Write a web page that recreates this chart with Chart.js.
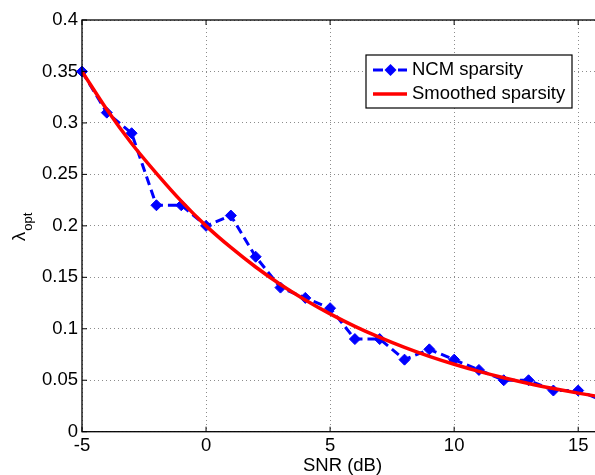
<!DOCTYPE html>
<html>
<head>
<meta charset="utf-8">
<script src="https://cdn.jsdelivr.net/npm/chart.js@4/dist/chart.umd.min.js"></script>
<style>
    html, body { margin: 0; padding: 0; background: #fff; overflow: hidden; }
    #wrap { width: 610px; height: 475px; }
</style>
</head>
<body>
<div id="wrap"><canvas id="chart" width="610" height="475"></canvas></div>
<script>
    // data
    const snr = [-5, -4, -3, -2, -1, 0, 1, 2, 3, 4, 5, 6, 7, 8, 9, 10, 11, 12, 13, 14, 15, 16];
    const ncmSparsity = [0.35, 0.31, 0.29, 0.22, 0.22, 0.20, 0.21, 0.17, 0.14, 0.13, 0.12,
        0.09, 0.09, 0.07, 0.08, 0.07, 0.06, 0.05, 0.05, 0.04, 0.04, 0.03];
    const smoothedSparsity = [0.350, 0.313, 0.280, 0.251, 0.224, 0.200, 0.179, 0.160, 0.143, 0.128, 0.1145,
        0.1024, 0.0916, 0.0819, 0.0732, 0.0655, 0.0586, 0.0524, 0.0468, 0.0419, 0.0375, 0.0335];
    const xTicks = [-5, 0, 5, 10, 15];
    const yTicks = [0, 0.05, 0.1, 0.15, 0.2, 0.25, 0.3, 0.35, 0.4];
    const seriesNames = ['NCM sparsity', 'Smoothed sparsity'];

    const FONT = "'Liberation Sans', Arial, sans-serif";
    const FONT_SIZE = 18.5;

    // frame, inward ticks, axis labels and legend (matlab look)
    const matlabFrame = {
        id: 'matlabFrame',
        afterDraw(chart) {
            const ctx = chart.ctx;
            const a = chart.chartArea;
            const xs = chart.scales.x, ys = chart.scales.y;
            ctx.save();
            ctx.strokeStyle = '#000';
            ctx.lineWidth = 1.3;
            ctx.strokeRect(a.left, a.top, a.right - a.left, a.bottom - a.top);

            ctx.lineWidth = 1;
            ctx.beginPath();
            xTicks.forEach(v => {
                const px = xs.getPixelForValue(v);
                ctx.moveTo(px, a.bottom); ctx.lineTo(px, a.bottom - 5);
                ctx.moveTo(px, a.top); ctx.lineTo(px, a.top + 5);
            });
            yTicks.forEach(v => {
                const py = ys.getPixelForValue(v);
                ctx.moveTo(a.left, py); ctx.lineTo(a.left + 5, py);
                ctx.moveTo(a.right, py); ctx.lineTo(a.right - 5, py);
            });
            ctx.stroke();

            // x title
            ctx.fillStyle = '#000';
            ctx.font = FONT_SIZE + 'px ' + FONT;
            ctx.textAlign = 'center';
            ctx.textBaseline = 'middle';
            ctx.fillText('SNR (dB)', (a.left + a.right) / 2, 466);

            // y title: lambda with subscript opt
            ctx.save();
            ctx.translate(25, 241);
            ctx.rotate(-Math.PI / 2);
            ctx.textAlign = 'left';
            ctx.textBaseline = 'alphabetic';
            ctx.font = FONT_SIZE + 'px ' + FONT;
            ctx.fillText('λ', 0, 0);
            const w = ctx.measureText('λ').width;
            ctx.font = '13px ' + FONT;
            ctx.fillText('opt', w + 1, 7);
            ctx.restore();

            // legend
            const lx = 366, ly = 55, lw = 206, lh = 53;
            ctx.fillStyle = '#fff';
            ctx.fillRect(lx, ly, lw, lh);
            ctx.strokeStyle = '#000';
            ctx.lineWidth = 1.2;
            ctx.strokeRect(lx, ly, lw, lh);

            const ds = chart.data.datasets;
            const r1 = ly + 15, r2 = ly + 39;
            // row 1: dashed blue with diamond
            ctx.strokeStyle = ds[0].borderColor;
            ctx.lineWidth = ds[0].borderWidth;
            ctx.beginPath();
            ctx.moveTo(lx + 7, r1); ctx.lineTo(lx + 17, r1);
            ctx.moveTo(lx + 32, r1); ctx.lineTo(lx + 41, r1);
            ctx.stroke();
            ctx.fillStyle = ds[0].pointBackgroundColor;
            ctx.beginPath();
            const cx = lx + 24.5, rr = 6;
            ctx.moveTo(cx, r1 - rr); ctx.lineTo(cx + rr, r1);
            ctx.lineTo(cx, r1 + rr); ctx.lineTo(cx - rr, r1);
            ctx.closePath();
            ctx.fill();
            // row 2: red solid
            ctx.strokeStyle = ds[1].borderColor;
            ctx.lineWidth = ds[1].borderWidth;
            ctx.beginPath();
            ctx.moveTo(lx + 7, r2); ctx.lineTo(lx + 41, r2);
            ctx.stroke();

            ctx.fillStyle = '#000';
            ctx.font = FONT_SIZE + 'px ' + FONT;
            ctx.textAlign = 'left';
            ctx.textBaseline = 'middle';
            ctx.fillText(seriesNames[0], lx + 46, r1);
            ctx.fillText(seriesNames[1], lx + 46, r2);
            ctx.restore();
        }
    };

    new Chart(document.getElementById('chart'), {
        type: 'line',
        data: {
            datasets: [
                {
                    label: seriesNames[0],
                    data: snr.map((x, i) => ({ x: x, y: ncmSparsity[i] })),
                    borderColor: '#0000ff',
                    borderWidth: 3,
                    borderDash: [9, 5],
                    pointStyle: 'rectRot',
                    pointRadius: 5.5,
                    pointBackgroundColor: '#0000ff',
                    pointBorderColor: '#0000ff',
                    pointBorderWidth: 1,
                    tension: 0,
                    clip: false,
                    order: 1
                },
                {
                    label: seriesNames[1],
                    data: snr.map((x, i) => ({ x: x, y: smoothedSparsity[i] })),
                    borderColor: '#ff0000',
                    borderWidth: 3.5,
                    pointRadius: 0,
                    tension: 0.4,
                    cubicInterpolationMode: 'monotone',
                    order: 0
                }
            ]
        },
        options: {
            responsive: false,
            animation: false,
            events: [],
            layout: { padding: { top: 20, right: 7, left: 0, bottom: 0 } },
            plugins: {
                legend: { display: false },
                tooltip: { enabled: false }
            },
            scales: {
                x: {
                    type: 'linear',
                    min: -5,
                    max: 16,
                    afterBuildTicks: scale => { scale.ticks = xTicks.map(v => ({ value: v })); },
                    afterFit: scale => { scale.height = 43.3; },
                    ticks: {
                        color: '#000',
                        font: { family: FONT, size: FONT_SIZE },
                        padding: 3,
                        maxRotation: 0
                    },
                    grid: { color: '#8c8c8c', lineWidth: 1, drawTicks: false },
                    border: { display: false, dash: [1, 3] }
                },
                y: {
                    min: 0,
                    max: 0.4,
                    afterBuildTicks: scale => { scale.ticks = yTicks.map(v => ({ value: v })); },
                    afterFit: scale => { scale.width = 82; },
                    ticks: {
                        color: '#000',
                        font: { family: FONT, size: FONT_SIZE },
                        padding: 4,
                        callback: v => String(+v.toFixed(2))
                    },
                    grid: { color: '#8c8c8c', lineWidth: 1, drawTicks: false },
                    border: { display: false, dash: [1, 3] }
                }
            }
        },
        plugins: [matlabFrame]
    });
</script>
</body>
</html>
